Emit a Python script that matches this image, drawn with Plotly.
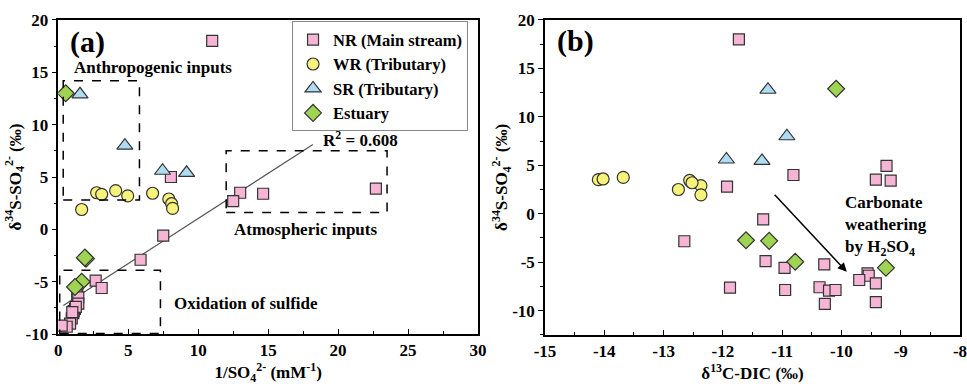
import plotly.graph_objects as go

# ---------------- Data ----------------
# Panel (a): 1/SO4 (mM^-1) vs d34S-SO4 (permil)
nr_a_x = [11.0, 8.05, 22.7, 13.0, 14.64, 12.5, 7.5, 5.88, 2.67, 3.1, 1.35, 1.43, 1.43, 1.19, 1.1, 1.07, 0.96, 0.84, 0.6, 0.24, 1.25, 1.0]
nr_a_y = [18.0, 5.0, 3.9, 3.5, 3.4, 2.7, -0.6, -2.9, -4.9, -5.6, -6.2, -6.5, -7.1, -7.6, -7.8, -8.0, -8.5, -9.0, -9.3, -9.2, -7.4, -7.9]
wr_a_x = [1.67, 2.74, 3.1, 4.1, 4.96, 6.74, 7.9, 8.1, 8.17]
wr_a_y = [1.9, 3.5, 3.35, 3.7, 3.2, 3.45, 2.9, 2.45, 2.0]
sr_a_x = [1.55, 4.76, 7.45, 9.17]
sr_a_y = [12.9, 8.0, 5.6, 5.4]
es_a_x = [0.53, 1.98, 1.9, 1.67, 1.19]
es_a_y = [13.0, -2.8, -2.7, -5.0, -5.5]

fit_x = [0.36, 18.2]
fit_y = [-7.26, 8.1]

# Panel (b): d13C-DIC (permil) vs d34S-SO4 (permil)
nr_b_x = [-11.73, -9.24, -10.81, -9.42, -9.17, -11.93, -12.65, -11.32, -11.28, -10.29, -10.96, -9.56, -9.54, -9.70, -9.42, -11.88, -10.95, -10.37, -10.21, -10.10, -10.28, -9.42]
nr_b_y = [18.0, 4.95, 4.0, 3.52, 3.42, 2.8, -2.84, -0.58, -4.89, -5.23, -5.58, -6.15, -6.4, -6.84, -7.18, -7.63, -7.87, -7.59, -7.94, -7.87, -9.3, -9.13]
wr_b_x = [-14.1, -14.02, -13.68, -12.75, -12.54, -12.56, -12.37, -12.37, -12.52]
wr_b_y = [3.52, 3.59, 3.75, 2.5, 3.31, 3.45, 2.9, 1.95, 3.2]
sr_b_x = [-11.24, -10.92, -11.94, -11.34]
sr_b_y = [12.8, 8.0, 5.6, 5.45]
es_b_x = [-10.09, -11.61, -11.22, -10.78, -9.25]
es_b_y = [12.9, -2.74, -2.8, -4.96, -5.58]

arrow_from = (-11.15, 2.11)
arrow_to = (-9.91, -6.0)

series_names = ["NR (Main stream)", "WR (Tributary)", "SR (Tributary)", "Estuary"]

xa_ticks = [0, 5, 10, 15, 20, 25, 30]
ya_ticks = [-10, -5, 0, 5, 10, 15, 20]
xb_ticks = [-15, -14, -13, -12, -11, -10, -9, -8]
yb_ticks = [-10, -5, 0, 5, 10, 15, 20]

def lab(v):
    return ("-" + str(abs(v))) if v < 0 else str(v)

# ---------------- Styles ----------------
FONT = "Liberation Serif"
pink, yellow, blue, green = "#F7B5D5", "#F6F27A", "#AEDCF2", "#9FD352"
edge = "#333333"
styles = [
    dict(symbol="square", color=pink, size=11),
    dict(symbol="circle", color=yellow, size=12),
    dict(symbol="triangle-up", color=blue, size=14),
    dict(symbol="diamond", color=green, size=13),
]

fig = go.Figure()

a_sets = [(nr_a_x, nr_a_y), (wr_a_x, wr_a_y), (sr_a_x, sr_a_y), (es_a_x, es_a_y)]
b_sets = [(nr_b_x, nr_b_y), (wr_b_x, wr_b_y), (sr_b_x, sr_b_y), (es_b_x, es_b_y)]

fig.add_trace(go.Scatter(x=fit_x, y=fit_y, mode="lines", line=dict(color="#555555", width=1.2),
                         showlegend=False, xaxis="x", yaxis="y", hoverinfo="skip"))

for name, st, (xs, ys) in zip(series_names, styles, a_sets):
    fig.add_trace(go.Scatter(x=xs, y=ys, mode="markers", name=name, xaxis="x", yaxis="y",
                             marker=dict(symbol=st["symbol"], color=st["color"], size=st["size"],
                                         line=dict(color=edge, width=1.2))))
for name, st, (xs, ys) in zip(series_names, styles, b_sets):
    fig.add_trace(go.Scatter(x=xs, y=ys, mode="markers", name=name, xaxis="x2", yaxis="y2",
                             showlegend=False,
                             marker=dict(symbol=st["symbol"], color=st["color"], size=st["size"],
                                         line=dict(color=edge, width=1.2))))

# dashed boxes (panel a)
boxes = [(0.35, 2.8, 5.8, 14.2), (12.0, 1.6, 23.5, 7.5), (0.1, -9.95, 7.3, -3.9)]
for x0, y0, x1, y1 in boxes:
    fig.add_shape(type="rect", xref="x", yref="y", x0=x0, y0=y0, x1=x1, y1=y1,
                  line=dict(color="black", width=1.5, dash="dash"))

axis_common = dict(showline=True, linecolor="black", linewidth=1.5, mirror=True, automargin=False,
                   showgrid=False, zeroline=False, tickcolor="black", ticklabeloverflow="allow",
                   tickfont=dict(family=FONT, size=17, color="black", weight="bold"))
title_font = dict(family=FONT, size=17, color="black", weight="bold")

fig.update_layout(
    width=967, height=388, margin=dict(l=0, r=0, t=0, b=0),
    paper_bgcolor="white", plot_bgcolor="white",
    font=dict(family=FONT, size=16, color="black", weight="bold"),
    xaxis=dict(domain=[0.0603, 0.4943], range=[0, 30], tickvals=xa_ticks,
               ticktext=[lab(v) for v in xa_ticks], ticks="inside", ticklen=5,
               minor=dict(ticks="inside", dtick=2.5, ticklen=3, tickcolor="black"),
               title=dict(text="1/SO<sub>4</sub><sup>2-</sup> (mM<sup>-1</sup>)", standoff=6, font=title_font),
               anchor="y", **axis_common),
    yaxis=dict(domain=[0.139, 0.9485], range=[-10, 20], tickvals=ya_ticks,
               ticktext=[lab(v) for v in ya_ticks], ticks="outside", ticklen=5,
               minor=dict(ticks="outside", dtick=2.5, ticklen=3, tickcolor="black"),
               title=dict(text="δ<sup>34</sup>S-SO<sub>4</sub><sup>2-</sup> (‰)", standoff=0, font=title_font),
               anchor="x", **axis_common),
    xaxis2=dict(domain=[0.5636, 0.9928], range=[-15, -8], tickvals=xb_ticks,
                ticktext=[lab(v) for v in xb_ticks], ticks="inside", ticklen=5,
                minor=dict(ticks="inside", dtick=0.5, ticklen=3, tickcolor="black"),
                title=dict(text="δ<sup>13</sup>C-DIC (‰)", standoff=6, font=title_font),
                anchor="y2", **axis_common),
    yaxis2=dict(domain=[0.137, 0.9485], range=[-12.5, 20], tickvals=yb_ticks,
                ticktext=[lab(v) for v in yb_ticks], ticks="outside", ticklen=5,
                minor=dict(ticks="outside", tickvals=[-12.5, -7.5, -2.5, 2.5, 7.5, 12.5, 17.5], ticklen=3, tickcolor="black"),
                title=dict(text="δ<sup>34</sup>S-SO<sub>4</sub><sup>2-</sup> (‰)", standoff=0, font=title_font),
                anchor="x2", **axis_common),
    legend=dict(x=0.302, y=0.945, xanchor="left", yanchor="top", bgcolor="white",
                bordercolor="#888888", borderwidth=1, tracegroupgap=0, itemwidth=30,
                font=dict(family=FONT, size=16.5, color="black", weight="bold")),
)

ann_font = dict(family=FONT, size=17, color="black", weight="bold")
fig.add_annotation(x=0.71, y=17.9, xref="x", yref="y", text="(a)", showarrow=False, xanchor="left",
                   font=dict(family=FONT, size=30, color="black", weight="bold"))
fig.add_annotation(x=-14.83, y=17.85, xref="x2", yref="y2", text="(b)", showarrow=False, xanchor="left",
                   font=dict(family=FONT, size=30, color="black", weight="bold"))
fig.add_annotation(x=0.96, y=15.5, xref="x", yref="y", text="Anthropogenic inputs", showarrow=False,
                   xanchor="left", font=ann_font)
fig.add_annotation(x=12.39, y=0.0, xref="x", yref="y", text="Atmospheric inputs", showarrow=False,
                   xanchor="left", font=ann_font)
fig.add_annotation(x=8.1, y=-7.1, xref="x", yref="y", text="Oxidation of sulfide", showarrow=False,
                   xanchor="left", font=ann_font)
fig.add_annotation(x=18.8, y=8.6, xref="x", yref="y", text="R<sup>2</sup> = 0.608", showarrow=False,
                   xanchor="left", font=ann_font)
fig.add_annotation(x=-9.97, y=-1.3, xref="x2", yref="y2",
                   text="Carbonate<br>weathering<br>by H<sub>2</sub>SO<sub>4</sub>", showarrow=False,
                   xanchor="left", align="left", font=ann_font)
fig.add_annotation(x=arrow_to[0], y=arrow_to[1], ax=arrow_from[0], ay=arrow_from[1],
                   xref="x2", yref="y2", axref="x2", ayref="y2", text="", showarrow=True,
                   arrowhead=2, arrowsize=1.2, arrowwidth=1.5, arrowcolor="black")

fig.write_html("out.html")
